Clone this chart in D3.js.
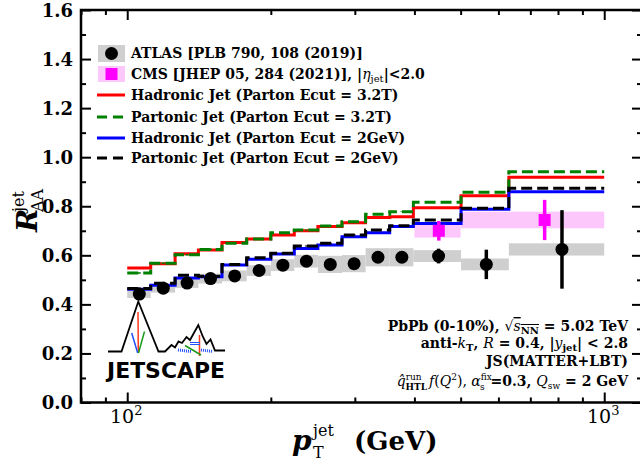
<!DOCTYPE html>
<html><head><meta charset="utf-8">
<script src="https://cdn.jsdelivr.net/npm/d3@7"></script>
<style>
body{margin:0;background:#fff}
svg{display:block;font-family:"DejaVu Serif",serif;font-weight:bold}
</style>
</head><body>
<svg id="c" width="640" height="476"></svg>
<script>
// ---------------- data ----------------
const binEdges   = [100,112,126,141,158,178,200,224,251,282,316,355,398,501,631,1000];
const binCenters = [106,119,133.5,149.5,168,189,212,237.5,266.5,299,335.5,376.5,449.5,566,815.5];
const atlasVal  = [0.442,0.466,0.487,0.505,0.516,0.538,0.560,0.576,0.563,0.566,0.592,0.592,0.597,0.563,0.624];
const atlasStat = [0.004,0.004,0.004,0.004,0.004,0.005,0.005,0.006,0.008,0.010,0.012,0.015,0.030,0.060,0.160];
const atlasSys  = [0.016,0.018,0.020,0.020,0.022,0.022,0.024,0.026,0.035,0.035,0.037,0.037,0.024,0.024,0.025];
const cmsEdges   = [400,500,1000];
const cmsCenters = [450,750];
const cmsVal  = [0.700,0.744];
const cmsStat = [0.040,0.082];
const cmsSys  = [0.028,0.034];
const hadron32 = [0.548,0.566,0.606,0.622,0.652,0.667,0.683,0.700,0.717,0.733,0.754,0.757,0.794,0.843,0.918];
const parton32 = [0.528,0.568,0.602,0.624,0.649,0.667,0.692,0.703,0.720,0.737,0.767,0.778,0.816,0.857,0.941];
const hadron2  = [0.462,0.478,0.508,0.513,0.561,0.584,0.605,0.628,0.642,0.676,0.692,0.717,0.730,0.788,0.859];
const parton2  = [0.465,0.486,0.519,0.515,0.563,0.590,0.608,0.638,0.649,0.683,0.703,0.721,0.744,0.792,0.873];
const modelErr = [0.003,0.003,0.003,0.003,0.003,0.003,0.003,0.004,0.004,0.004,0.005,0.005,0.006,0.008,0.010];
const yMajor = [0,0.2,0.4,0.6,0.8,1.0,1.2,1.4,1.6];
const yMinor = [0.1,0.3,0.5,0.7,0.9,1.1,1.3,1.5];
const xMajor = [100,1000];
const xMinor = [80,90,200,300,400,500,600,700,800,900];
const xTickLabels = [["10","2"],["10","3"]];

// ---------------- layout ----------------
const L=81,R=642,T=10,B=402.5;
const svg=d3.select("#c");
const x=d3.scaleLog().domain([80,1200]).range([L,R]);
const y=d3.scaleLinear().domain([0,1.6]).range([B,T]);

const plot=svg.append("g");

// ATLAS systematic boxes
plot.selectAll("rect.asys").data(atlasVal).join("rect")
  .attr("x",(d,i)=>x(binEdges[i])).attr("width",(d,i)=>x(binEdges[i+1])-x(binEdges[i]))
  .attr("y",(d,i)=>y(d+atlasSys[i])).attr("height",(d,i)=>y(d-atlasSys[i])-y(d+atlasSys[i]))
  .attr("fill","#cfcfcf");
// CMS systematic boxes
plot.selectAll("rect.csys").data(cmsVal).join("rect")
  .attr("x",(d,i)=>x(cmsEdges[i])).attr("width",(d,i)=>x(cmsEdges[i+1])-x(cmsEdges[i]))
  .attr("y",(d,i)=>y(d+cmsSys[i])).attr("height",(d,i)=>y(d-cmsSys[i])-y(d+cmsSys[i]))
  .attr("fill","#fcc8fc");

// model step lines
const step=d3.line().x(d=>x(d[0])).y(d=>y(d[1])).curve(d3.curveStepAfter);
const models=[
  {v:hadron32,c:"#ff0000",dash:null},
  {v:parton32,c:"#008000",dash:"11,5"},
  {v:hadron2,c:"#0000ff",dash:null},
  {v:parton2,c:"#000000",dash:"11,5"}
];
models.forEach(m=>{
  const pts=m.v.map((v,i)=>[binEdges[i],v]); pts.push([binEdges[binEdges.length-1],m.v[m.v.length-1]]);
  plot.append("path").attr("d",step(pts)).attr("fill","none").attr("stroke",m.c)
    .attr("stroke-width",3).attr("stroke-dasharray",m.dash);
  plot.append("g").selectAll("line").data(m.v).join("line")
    .attr("x1",(d,i)=>x(binCenters[i])).attr("x2",(d,i)=>x(binCenters[i]))
    .attr("y1",(d,i)=>y(d-modelErr[i])-1.5).attr("y2",(d,i)=>y(d+modelErr[i])+1.5)
    .attr("stroke",m.c).attr("stroke-width",3);
});

// CMS points
plot.selectAll("line.cerr").data(cmsVal).join("line")
  .attr("x1",(d,i)=>x(cmsCenters[i])).attr("x2",(d,i)=>x(cmsCenters[i]))
  .attr("y1",(d,i)=>y(d-cmsStat[i])).attr("y2",(d,i)=>y(d+cmsStat[i]))
  .attr("stroke","#ff00ff").attr("stroke-width",3.5);
plot.selectAll("rect.cpt").data(cmsVal).join("rect")
  .attr("x",(d,i)=>x(cmsCenters[i])-6).attr("y",d=>y(d)-6).attr("width",12).attr("height",12)
  .attr("fill","#ff00ff");

// ATLAS points
plot.selectAll("line.aerr").data(atlasVal).join("line")
  .attr("x1",(d,i)=>x(binCenters[i])).attr("x2",(d,i)=>x(binCenters[i]))
  .attr("y1",(d,i)=>y(d-atlasStat[i])).attr("y2",(d,i)=>y(d+atlasStat[i]))
  .attr("stroke","#000").attr("stroke-width",3.5);
plot.selectAll("circle.apt").data(atlasVal).join("circle")
  .attr("cx",(d,i)=>x(binCenters[i])).attr("cy",d=>y(d)).attr("r",6.5).attr("fill","#000");

// ---------------- axes ----------------
function styleAxis(g){g.select(".domain").remove();g.selectAll(".tick line").attr("stroke","#000").attr("stroke-width",2);}
svg.append("g").attr("transform",`translate(0,${B})`).call(d3.axisBottom(x).tickValues(xMajor).tickSizeInner(-10).tickSizeOuter(0).tickFormat("")).call(styleAxis);
svg.append("g").attr("transform",`translate(0,${B})`).call(d3.axisBottom(x).tickValues(xMinor).tickSizeInner(-5).tickSizeOuter(0).tickFormat("")).call(styleAxis);
svg.append("g").attr("transform",`translate(0,${T})`).call(d3.axisTop(x).tickValues(xMajor).tickSizeInner(-10).tickSizeOuter(0).tickFormat("")).call(styleAxis);
svg.append("g").attr("transform",`translate(0,${T})`).call(d3.axisTop(x).tickValues(xMinor).tickSizeInner(-5).tickSizeOuter(0).tickFormat("")).call(styleAxis);
const yl=svg.append("g").attr("transform",`translate(${L},0)`).call(d3.axisLeft(y).tickValues(yMajor).tickSizeInner(-10).tickSizeOuter(0).tickPadding(8).tickFormat(d3.format(".1f"))).call(styleAxis);
yl.attr("font-family",null).attr("font-size",null);
yl.selectAll("text").attr("font-family","DejaVu Serif").attr("font-weight","bold").attr("font-size",18).attr("dy","0.36em");
svg.append("g").attr("transform",`translate(${L},0)`).call(d3.axisLeft(y).tickValues(yMinor).tickSizeInner(-5).tickSizeOuter(0).tickFormat("")).call(styleAxis);
svg.append("g").attr("transform",`translate(${R},0)`).call(d3.axisRight(y).tickValues(yMajor).tickSizeInner(-10).tickSizeOuter(0).tickFormat("")).call(styleAxis);
svg.append("g").attr("transform",`translate(${R},0)`).call(d3.axisRight(y).tickValues(yMinor).tickSizeInner(-5).tickSizeOuter(0).tickFormat("")).call(styleAxis);
svg.append("rect").attr("x",L).attr("y",T).attr("width",R-L).attr("height",B-T).attr("fill","none").attr("stroke","#000").attr("stroke-width",2.5);

// x tick labels
xMajor.forEach((v,i)=>{
  const t=svg.append("text").attr("x",x(v)-1).attr("y",423).attr("text-anchor","middle")
    .attr("font-weight","normal").attr("font-size",19);
  t.append("tspan").text(xTickLabels[i][0]);
  t.append("tspan").attr("font-size",13).attr("dy",-8).text(xTickLabels[i][1]);
});

// axis titles
const yt=svg.append("g").attr("transform","translate(37,232) rotate(-90)");
yt.append("text").attr("x",0).attr("y",0).attr("font-style","italic").attr("font-size",28).text("R");
yt.append("text").attr("x",20).attr("y",-13).attr("font-weight","normal").attr("font-size",16).text("jet");
yt.append("text").attr("x",20).attr("y",6).attr("font-weight","normal").attr("font-size",16).text("AA");

const xt=svg.append("g").attr("transform","translate(292,450)");
xt.append("text").attr("x",0).attr("y",0).attr("font-style","italic").attr("font-size",28).text("p");
xt.append("text").attr("x",21).attr("y",-14).attr("font-weight","normal").attr("font-size",16).text("jet");
xt.append("text").attr("x",21).attr("y",8).attr("font-weight","normal").attr("font-size",16).text("T");
xt.append("text").attr("x",62).attr("y",0).attr("font-size",26).text("(GeV)");

// ---------------- legend ----------------
const lg=svg.append("g");
const rows=[53,74,95,117,138,158];
lg.append("rect").attr("x",98).attr("y",45).attr("width",27).attr("height",17).attr("fill","#cfcfcf");
lg.append("circle").attr("cx",111.5).attr("cy",53.5).attr("r",6.5).attr("fill","#000");
lg.append("rect").attr("x",98).attr("y",66).attr("width",27).attr("height",16).attr("fill","#fcc8fc");
lg.append("rect").attr("x",105.5).attr("y",68).attr("width",12).attr("height",12).attr("fill","#ff00ff");
models.forEach((m,i)=>{
  lg.append("line").attr("x1",97).attr("x2",125).attr("y1",rows[i+2]).attr("y2",rows[i+2])
    .attr("stroke",m.c).attr("stroke-width",3).attr("stroke-dasharray",m.dash?"10,6":null);
});
const lgText=(i)=>lg.append("text").attr("x",131).attr("y",rows[i]+5).attr("font-size",14);
lgText(0).text("ATLAS [PLB 790, 108 (2019)]");
{const t=lgText(1); t.append("tspan").text("CMS [JHEP 05, 284 (2021)], |");
 t.append("tspan").attr("font-style","italic").attr("font-weight","normal").text("η");
 t.append("tspan").attr("font-size",10).attr("font-weight","normal").attr("dy",3).text("jet");
 t.append("tspan").attr("dy",-3).text("|<2.0");}
lgText(2).text("Hadronic Jet (Parton Ecut = 3.2T)");
lgText(3).text("Partonic Jet (Parton Ecut = 3.2T)");
lgText(4).text("Hadronic Jet (Parton Ecut = 2GeV)");
lgText(5).text("Partonic Jet (Parton Ecut = 2GeV)");

// ---------------- annotation ----------------
const an=svg.append("g");
const aR=628;
{const t=an.append("text").attr("x",aR).attr("y",331).attr("text-anchor","end").attr("font-size",14);
 t.append("tspan").text("PbPb (0-10%), ");
 t.append("tspan").attr("font-weight","normal").text("√");
 t.append("tspan").attr("font-style","italic").attr("font-weight","normal").attr("text-decoration","overline").text("s");
 t.append("tspan").attr("font-size",10).attr("dy",3).attr("text-decoration","overline").text("NN");
 t.append("tspan").attr("dy",-3).text(" = 5.02 TeV");}
{const t=an.append("text").attr("x",aR).attr("y",348).attr("text-anchor","end").attr("font-size",14);
 t.append("tspan").text("anti-");
 t.append("tspan").attr("font-style","italic").attr("font-weight","normal").text("k");
 t.append("tspan").attr("font-size",10).attr("dy",3).text("T");
 t.append("tspan").attr("dy",-3).text(", ");
 t.append("tspan").attr("font-style","italic").attr("font-weight","normal").text("R");
 t.append("tspan").text(" = 0.4, |");
 t.append("tspan").attr("font-style","italic").attr("font-weight","normal").text("y");
 t.append("tspan").attr("font-size",10).attr("dy",3).text("jet");
 t.append("tspan").attr("dy",-3).text("| < 2.8");}
an.append("text").attr("x",aR).attr("y",366).attr("text-anchor","end").attr("font-size",14).text("JS(MATTER+LBT)");
{const t=an.append("text").attr("x",aR).attr("y",386).attr("text-anchor","end").attr("font-size",14);
 t.append("tspan").attr("font-style","italic").attr("font-weight","normal").text("q̂");
 t.append("tspan").attr("font-size",9).attr("dy",-6).attr("font-weight","normal").text("run");
 t.append("tspan").attr("font-size",9).attr("dy",10).attr("dx",-16).text("HTL");
 t.append("tspan").attr("dy",-4).attr("dx",2).attr("font-style","italic").attr("font-weight","normal").text("f");
 t.append("tspan").attr("font-weight","normal").text("(");
 t.append("tspan").attr("font-style","italic").attr("font-weight","normal").text("Q");
 t.append("tspan").attr("font-size",9).attr("dy",-6).attr("font-weight","normal").text("2");
 t.append("tspan").attr("dy",6).attr("font-weight","normal").text("), ");
 t.append("tspan").attr("font-style","italic").attr("font-weight","normal").text("α");
 t.append("tspan").attr("font-size",9).attr("dy",-6).attr("font-weight","normal").text("fix");
 t.append("tspan").attr("font-size",9).attr("dy",10).attr("dx",-12).attr("font-weight","normal").text("s");
 t.append("tspan").attr("dy",-4).attr("dx",6).text("=0.3, ");
 t.append("tspan").attr("font-style","italic").attr("font-weight","normal").text("Q");
 t.append("tspan").attr("font-size",9).attr("dy",3).attr("font-weight","normal").text("sw");
 t.append("tspan").attr("dy",-3).text(" = 2 GeV");}

// ---------------- JETSCAPE logo ----------------
const lo=svg.append("g");
const mountain=[[108,351.5],[121.5,351.5],[138.3,301.5],[158.5,351.5],[165,351.5],[171.5,345],[175,347.5],[178.5,341.5],[182,343],[186.5,337],[190,340],[198.3,325],[203,337],[206.5,344],[210.5,339.5],[215,350.5],[225,350.5]];
lo.append("path").attr("d",d3.line()(mountain)).attr("fill","none").attr("stroke","#000").attr("stroke-width",1.8);
lo.append("line").attr("x1",138).attr("y1",312).attr("x2",138.3).attr("y2",353).attr("stroke","#ff3b1f").attr("stroke-width",1.5);
lo.append("line").attr("x1",131.7).attr("y1",333).attr("x2",137.7).attr("y2",353).attr("stroke","#2050ff").attr("stroke-width",1.5);
lo.append("line").attr("x1",144.5).attr("y1",331.5).attr("x2",138.5).attr("y2",353).attr("stroke","#1a9a1a").attr("stroke-width",1.5);
lo.append("line").attr("x1",199.5).attr("y1",335).attr("x2",199.5).attr("y2",356).attr("stroke","#ff3b1f").attr("stroke-width",1.5);
lo.append("line").attr("x1",185).attr("y1",345.5).attr("x2",201).attr("y2",355).attr("stroke","#1a9a1a").attr("stroke-width",1.5);
lo.append("line").attr("x1",193).attr("y1",344).attr("x2",197).attr("y2",344).attr("stroke","#2050ff").attr("stroke-width",10).attr("stroke-dasharray","1,1").attr("transform","rotate(90,195,344)");
lo.append("line").attr("x1",178).attr("y1",350).attr("x2",191).attr("y2",351.5).attr("stroke","#2050ff").attr("stroke-width",3).attr("stroke-dasharray","1,1");
lo.append("line").attr("x1",201).attr("y1",350).attr("x2",213).attr("y2",351.5).attr("stroke","#2050ff").attr("stroke-width",3).attr("stroke-dasharray","1,1");
lo.append("text").attr("x",107).attr("y",378).attr("font-family","DejaVu Sans").attr("font-weight","bold")
  .attr("font-size",21).attr("textLength",118).attr("lengthAdjust","spacingAndGlyphs").text("JETSCAPE");
</script>
</body></html>
